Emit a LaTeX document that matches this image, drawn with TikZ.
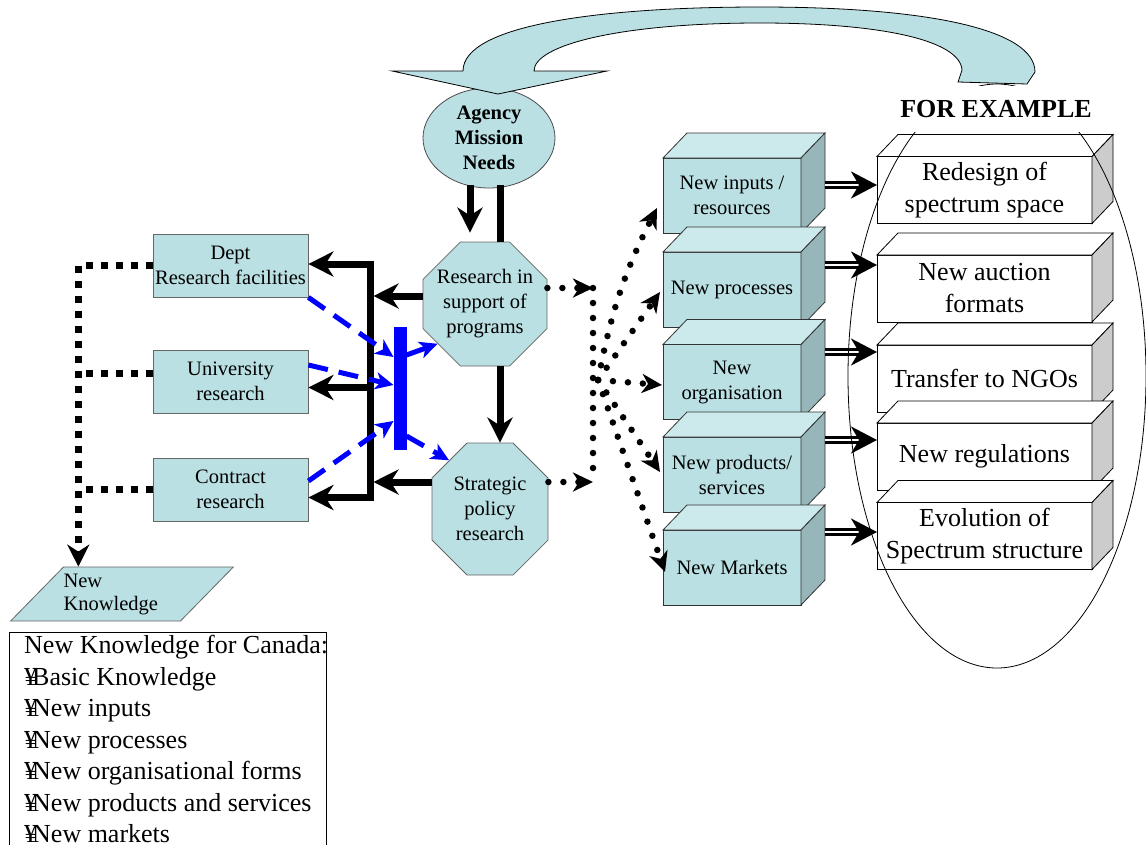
\documentclass[tikz,border=0pt]{standalone}
\usepackage{fontspec}
\setmainfont{Liberation Serif}
\usetikzlibrary{shapes.geometric, shapes.misc, arrows.meta, positioning, calc}
\definecolor{boxcyan}{RGB}{186,224,227}
\definecolor{cyantop}{RGB}{204,233,236}
\definecolor{cyanside}{RGB}{150,182,185}
\definecolor{greyside}{RGB}{204,204,204}

\begin{document}
\begin{tikzpicture}[
    x=1pt, y=-1pt,
    every node/.style={align=center},
    txt/.style={font=\fontsize{20.5}{25}\selectfont},
    bigtxt/.style={font=\fontsize{26}{32}\selectfont},
    plainbox/.style={draw=black!60, line width=0.8pt, fill=boxcyan, minimum width=155pt, minimum height=63pt, inner sep=0pt, txt},
    octa/.style={draw=black!60, line width=0.8pt, fill=boxcyan, chamfered rectangle, inner ysep=0pt, txt},
    cube/.style={draw=black!80, line width=0.8pt, fill=boxcyan, minimum width=138pt, minimum height=75pt, inner sep=0pt, outer sep=0pt, txt},
    cubetop/.style={draw=black!80, line width=0.8pt, fill=cyantop},
    cubeside/.style={draw=black!80, line width=0.8pt, fill=cyanside},
    slab/.style={draw, line width=0.8pt, fill=white, minimum width=215pt, minimum height=67pt, inner sep=0pt, outer sep=0pt, bigtxt},
    slabtop/.style={draw, line width=0.8pt, fill=white},
    slabside/.style={draw, line width=0.8pt, fill=greyside},
    heavy/.style={line width=7pt},
    heavyarrow/.style={line width=7pt, -{Stealth[length=25pt, width=25pt, inset=8pt]}},
    bluedash/.style={blue, line width=5pt, dash pattern=on 20pt off 11pt, -{Stealth[length=18pt, width=17pt, inset=5pt]}},
    squaredots/.style={line width=7pt, dash pattern=on 7pt off 8pt},
    rounddots/.style={line width=6.5pt, line cap=round, dash pattern=on 0pt off 15pt},
    dotarrow/.style={rounddots, -{Stealth[length=20pt, width=19pt, inset=6pt]}},
    twinarrow/.style={double=white, double distance=2pt, line width=3pt, -{Stealth[length=26pt, width=27pt, inset=8pt]}}
]
    \useasboundingbox (0,0) rectangle (1146,844);

    % Agency and the two research octagons
    \node[draw=black!70, line width=0.8pt, fill=boxcyan, ellipse, minimum width=132pt, minimum height=100pt, inner sep=0pt,
          font=\fontsize{20.5}{25}\selectfont\bfseries] (agency) at (489,138) {Agency\\Mission\\Needs};
    \node[octa, minimum width=124pt, minimum height=124pt, inner xsep=-22pt, chamfered rectangle xsep=36pt] (rsp) at (485,304) {Research in\\support of\\programs};
    \node[octa, minimum width=116pt, minimum height=132pt, inner xsep=-12pt, chamfered rectangle xsep=33pt] (strategic) at (490,509) {Strategic\\policy\\research};

    % Left column of research sources
    \node[plainbox] (dept) at (230.5,265.5) {Dept\\Research facilities};
    \node[plainbox] (univ) at (230.5,381.5) {University\\research};
    \node[plainbox] (contract) at (230.5,489.5) {Contract\\research};

    % New knowledge and its list
    \node[trapezium, trapezium left angle=45, trapezium right angle=135, trapezium stretches body,
          draw=black!60, line width=0.8pt, fill=boxcyan, minimum width=216pt, minimum height=54pt, inner xsep=0pt, inner ysep=6pt,
          text width=117pt, align=left, font=\fontsize{20.5}{23}\selectfont] (newknow) at (122,594) {New\\Knowledge};
    \node[draw, line width=0.8pt, anchor=north west, align=left, inner xsep=13pt, inner ysep=3pt, minimum width=317pt,
          text depth=0pt, font=\fontsize{26}{31.5}\selectfont] (legend) at (9,632)
        {\rlap{New Knowledge for Canada:}\\¥\kern-5pt Basic Knowledge\\¥\kern-5pt New inputs\\¥\kern-5pt New processes\\
         ¥\kern-5pt New organisational forms\\¥\kern-5pt New products and services\\¥\kern-5pt New markets};

    % Cyan 3D outcome boxes
    \node[cube] (inputs) at (732,195.5) {New inputs /\\resources};
    \draw[cubetop] (inputs.north west) -- ++(24,-25) -- ++(138,0) -- (inputs.north east) -- cycle;
    \draw[cubeside] (inputs.north east) -- ++(24,-25) -- ++(0,75) -- (inputs.south east) -- cycle;
    \node[cube] (processes) at (732,289.5) {New processes};
    \draw[cubetop] (processes.north west) -- ++(24,-25) -- ++(138,0) -- (processes.north east) -- cycle;
    \draw[cubeside] (processes.north east) -- ++(24,-25) -- ++(0,75) -- (processes.south east) -- cycle;
    \node[cube] (organisation) at (732,382) {New\\organisation};
    \draw[cubetop] (organisation.north west) -- ++(24,-25) -- ++(138,0) -- (organisation.north east) -- cycle;
    \draw[cubeside] (organisation.north east) -- ++(24,-25) -- ++(0,75) -- (organisation.south east) -- cycle;
    \node[cube] (products) at (732,474.5) {New products/\\services};
    \draw[cubetop] (products.north west) -- ++(24,-25) -- ++(138,0) -- (products.north east) -- cycle;
    \draw[cubeside] (products.north east) -- ++(24,-25) -- ++(0,75) -- (products.south east) -- cycle;
    \node[cube] (markets) at (732,567.5) {New Markets};
    \draw[cubetop] (markets.north west) -- ++(24,-25) -- ++(138,0) -- (markets.north east) -- cycle;
    \draw[cubeside] (markets.north east) -- ++(24,-25) -- ++(0,75) -- (markets.south east) -- cycle;

    % White example slabs
    \node[slab] (redesign) at (984.5,190) {Redesign of\\spectrum space};
    \draw[slabtop] (redesign.north west) -- ++(21,-22) -- ++(215,0) -- (redesign.north east) -- cycle;
    \draw[slabside] (redesign.north east) -- ++(21,-22) -- ++(0,67) -- (redesign.south east) -- cycle;
    \node[slab] (auction) at (984.5,288.5) {New auction\\formats};
    \draw[slabtop] (auction.north west) -- ++(21,-22) -- ++(215,0) -- (auction.north east) -- cycle;
    \draw[slabside] (auction.north east) -- ++(21,-22) -- ++(0,67) -- (auction.south east) -- cycle;
    \node[slab] (ngos) at (984.5,378.5) {Transfer to NGOs};
    \draw[slabtop] (ngos.north west) -- ++(21,-22) -- ++(215,0) -- (ngos.north east) -- cycle;
    \draw[slabside] (ngos.north east) -- ++(21,-22) -- ++(0,67) -- (ngos.south east) -- cycle;
    \node[slab] (regulations) at (984.5,456.5) {New regulations};
    \draw[slabtop] (regulations.north west) -- ++(21,-22) -- ++(215,0) -- (regulations.north east) -- cycle;
    \draw[slabside] (regulations.north east) -- ++(21,-22) -- ++(0,67) -- (regulations.south east) -- cycle;
    \node[slab] (evolution) at (984.5,536) {Evolution of\\Spectrum structure};
    \draw[slabtop] (evolution.north west) -- ++(21,-22) -- ++(215,0) -- (evolution.north east) -- cycle;
    \draw[slabside] (evolution.north east) -- ++(21,-22) -- ++(0,67) -- (evolution.south east) -- cycle;

    % Double arrows from outcomes to examples
    \draw[twinarrow] ([xshift=24pt,yshift=10.5pt]inputs.east) -- ([yshift=5pt]redesign.west);
    \draw[twinarrow] ([xshift=24pt,yshift=24.5pt]processes.east) -- ([yshift=23.5pt]auction.west);
    \draw[twinarrow] ([xshift=24pt,yshift=30pt]organisation.east) -- ([yshift=26.5pt]ngos.west);
    \draw[twinarrow] ([xshift=24pt,yshift=34.5pt]products.east) -- ([yshift=16.5pt]regulations.west);
    \draw[twinarrow] ([xshift=24pt,yshift=35.5pt]markets.east) -- ([yshift=4pt]evolution.west);

    % Agency links
    \draw[heavyarrow] ([xshift=-19pt,yshift=3pt]agency.south) -- ([xshift=-15pt,yshift=9pt]rsp.north);
    \draw[heavy] ([xshift=15pt]rsp.north) -- ([xshift=11pt,yshift=3pt]agency.south);
    \draw[heavyarrow] ([xshift=15pt]rsp.south) -- ([xshift=10pt]strategic.north);

    % Black distribution bar
    \coordinate (bartop) at (370,264);
    \coordinate (barbot) at (370,501);
    \draw[heavy] (bartop) -- (barbot);
    \draw[heavyarrow] ([xshift=3.5pt]bartop) -- (dept.east |- bartop);
    \draw[heavyarrow] ([yshift=-6pt]univ.east -| bartop) -- ([yshift=-6pt]univ.east);
    \draw[heavyarrow] ([xshift=3.5pt,yshift=-8pt]contract.east -| barbot) -- ([yshift=-8pt]contract.east);
    \draw[heavyarrow] ([yshift=8pt]rsp.west) -- ([yshift=8pt,xshift=3.5pt]rsp.west -| bartop);
    \draw[heavyarrow] ([yshift=27pt]strategic.west) -- ([yshift=27pt,xshift=3.5pt]strategic.west -| bartop);

    % Blue hub and dashed feeds
    \node[fill=blue, minimum width=13pt, minimum height=123pt, inner sep=0pt, outer sep=0pt] (hub) at (400,388.5) {};
    \draw[bluedash] (dept.south east) -- ([yshift=31.5pt]hub.west);
    \draw[bluedash] ([yshift=16.5pt]univ.east) -- ([yshift=3.5pt]hub.west);
    \draw[bluedash] ([yshift=8.5pt]contract.east) -- ([yshift=-32.5pt]hub.west);
    \draw[bluedash] ([yshift=33.5pt]hub.east) -- (rsp.220);
    \draw[bluedash] ([yshift=-47.5pt]hub.east) -- (strategic.130);

    % Square dotted lines to new knowledge
    \draw[squaredots, -{Stealth[length=22pt, width=22pt, inset=7pt]}] (dept.west) -| ([xshift=15pt]newknow.top left corner);
    \draw[squaredots] ([yshift=8pt]univ.west) -- ([yshift=8pt,xshift=15pt]univ.west -| newknow.top left corner);
    \draw[squaredots] (contract.west) -- ([xshift=15pt]contract.west -| newknow.top left corner);

    % Round dotted fan to outcomes
    \coordinate (fantop) at (593,288);
    \coordinate (fanbot) at (593,482);
    \coordinate (fanmid) at (598,380);
    \draw[rounddots] (fantop) -- (fanbot);
    \draw[dotarrow] ([yshift=16pt]rsp.east) -- (fantop);
    \draw[dotarrow] ([yshift=27pt]strategic.east) -- (fanbot);
    \draw[dotarrow] (fanmid) to[bend left=8] ([xshift=-6pt,yshift=-12.5pt]inputs.west);
    \draw[dotarrow] (fanmid) -- ([xshift=-3pt,yshift=-2.5pt]processes.west);
    \draw[dotarrow] (fanmid) -- ([xshift=-1pt,yshift=-3pt]organisation.west);
    \draw[dotarrow] (fanmid) -- ([xshift=-3pt,yshift=2.5pt]products.west);
    \draw[dotarrow] (fanmid) -- ([xshift=2pt,yshift=-4.5pt]markets.west);

    % Examples ellipse and its title
    \node[draw, ellipse, line width=0.8pt, minimum width=298pt, minimum height=584pt, inner sep=0pt] (examples) at (997,376) {};
    \node[fill=white, minimum height=46pt, inner xsep=4pt, font=\fontsize{26}{32}\selectfont\bfseries] (forex) at (996,109) {FOR EXAMPLE};

    % Feedback block arrow back to the agency
    \draw[line width=0.8pt, fill=boxcyan] (463,71) .. controls (463,25) and (600,7) .. (760,7)
        .. controls (930,7) and (1035,30) .. (1035,72) -- (1027,84) -- (958,82) -- (962,70)
        .. controls (960,40) and (880,23) .. (760,23) .. controls (620,23) and (534,45) .. (534,71)
        -- (607,71) -- (498,94) -- (392,71) -- cycle;

\end{tikzpicture}
\end{document}
